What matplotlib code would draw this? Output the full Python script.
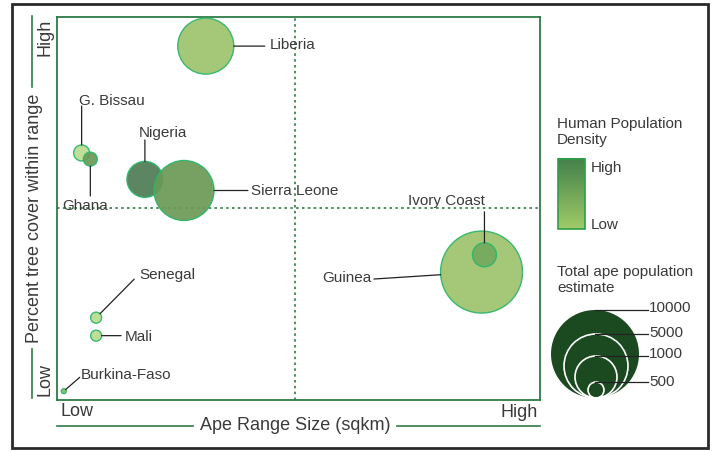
import numpy as np
import matplotlib
matplotlib.use("Agg")
import matplotlib.pyplot as plt
import matplotlib.patches as mpatches
from matplotlib.colors import LinearSegmentedColormap

# data (x = ape range size index, y = tree cover index, both 0-100)
countries = ["Liberia", "G. Bissau", "Ghana", "Nigeria", "Sierra Leone",
             "Guinea", "Ivory Coast", "Senegal", "Mali", "Burkina-Faso"]
range_size = [30.8, 5.1, 6.9, 18.2, 26.3, 87.9, 88.5, 8.1, 8.1, 1.4]
tree_cover = [92.4, 64.5, 62.9, 57.6, 54.7, 33.4, 37.9, 21.5, 16.8, 2.3]
ape_population = [4050, 330, 250, 1670, 4650, 8680, 740, 156, 156, 32]
human_density = [0.3, 0.0, 0.75, 1.0, 0.75, 0.3, 0.55, 0.0, 0.0, 0.4]
legend_values = ["10000", "5000", "1000", "500"]

W, H = 715, 452
plt.rcParams['font.family'] = ['Liberation Sans', 'DejaVu Sans']
TXT = '#3a3a3a'
DKGREEN = '#2F7A47'
EDGE = '#2DB56A'

density_cmap = LinearSegmentedColormap.from_list(
    "dens", [(0, '#BADD8F'), (0.3, '#9CC46D'), (0.55, '#74A95E'),
             (0.75, '#6B9955'), (1.0, '#4E7C55')])

fig = plt.figure(figsize=(W / 100, H / 100), dpi=100)

# overlay in pixel coordinates for frame, captions and legend
ov = fig.add_axes([0, 0, 1, 1])
ov.set_xlim(0, W)
ov.set_ylim(H, 0)
ov.axis('off')

# main axes
ax = fig.add_axes([57 / W, 1 - 401 / H, 483 / W, 383 / H])
ax.set_xlim(0, 100)
ax.set_ylim(0, 100)
ax.set_xticks([])
ax.set_yticks([])
ax.patch.set_alpha(0)
for sp in ax.spines.values():
    sp.set_color(DKGREEN)
    sp.set_linewidth(1.3)

ax.axvline(49.3, color=DKGREEN, lw=1.2, ls=(0, (1.5, 2)))
ax.axhline(50.1, color=DKGREEN, lw=1.2, ls=(0, (1.5, 2)))

def radius_px(pop):
    return 44 * np.sqrt(np.asarray(pop, dtype=float) / 10000)

r = radius_px(ape_population)
sizes = (2 * r * 0.72) ** 2
ax.scatter(range_size, tree_cover, s=sizes, c=density_cmap(human_density),
           edgecolors=EDGE, linewidths=1.0, alpha=0.92, zorder=3, clip_on=False)

# label layout in points from bubble centre:
# (connector end x, y, text x, y, ha, va)
label_layout = {
    "Liberia": (42.5, 0, 46, 1.4, 'left', 'center'),
    "G. Bissau": (0, 33.8, -1.8, 35.3, 'left', 'baseline'),
    "Nigeria": (0, 28.4, -4.3, 31.3, 'left', 'baseline'),
    "Ghana": (0, -26.6, -20.5, -36, 'left', 'baseline'),
    "Sierra Leone": (46, 0, 48.2, 0.3, 'left', 'center'),
    "Ivory Coast": (0, 31, -55, 36.8, 'left', 'baseline'),
    "Guinea": (-77.5, -5, -79, -3.5, 'right', 'center'),
    "Senegal": (27.4, 27.7, 31, 28.4, 'left', 'baseline'),
    "Mali": (18, 0, 20.9, 0, 'left', 'center'),
    "Burkina-Faso": (11.5, 10, 12.2, 9.4, 'left', 'baseline'),
}
for name, x, y, rr in zip(countries, range_size, tree_cover, r):
    ex, ey, tx, ty, ha, va = label_layout[name]
    ax.annotate('', xy=(x, y), xytext=(ex, ey), textcoords='offset points',
                zorder=5,
                arrowprops=dict(arrowstyle='-', color='#222222', lw=0.9,
                                shrinkA=0, shrinkB=rr * 0.72))
    ax.annotate(name, xy=(x, y), xytext=(tx, ty), textcoords='offset points',
                ha=ha, va=va, fontsize=11, color=TXT, zorder=5)

# outer frame
ov.add_patch(mpatches.Rectangle((12, 5), 696, 444, fill=False,
                                edgecolor='#2a2a2a', lw=2))

# axis captions
ov.text(45, 37, "High", rotation=90, ha='center', va='center', fontsize=13, color=TXT)
ov.text(45, 380, "Low", rotation=90, ha='center', va='center', fontsize=13, color=TXT)
ov.text(35, 218, "Percent tree cover within range", rotation=90,
        ha='center', va='center', fontsize=13, color=TXT)
ov.plot([32, 32], [17, 88], color=DKGREEN, lw=1.2)
ov.plot([32, 32], [350, 399], color=DKGREEN, lw=1.2)

ov.text(60, 412, "Low", ha='left', va='center', fontsize=13, color=TXT)
ov.text(538, 413, "High", ha='right', va='center', fontsize=13, color=TXT)
ov.text(295, 426, "Ape Range Size (sqkm)", ha='center', va='center',
        fontsize=13, color=TXT)
ov.plot([57, 193], [427, 427], color=DKGREEN, lw=1.2)
ov.plot([397, 540], [427, 427], color=DKGREEN, lw=1.2)

# legend: human population density
ov.text(557, 117, "Human Population\nDensity", ha='left', va='top',
        fontsize=11, color=TXT, linespacing=1.15)
grad = np.linspace(1, 0, 100).reshape(-1, 1)
cbar_cmap = LinearSegmentedColormap.from_list("cb", ['#9FCC68', '#43804B'])
ov.imshow(grad, cmap=cbar_cmap, extent=(558, 585, 230, 160), aspect='auto',
          vmin=0, vmax=1, zorder=2)
ov.add_patch(mpatches.Rectangle((558, 160), 27, 70, fill=False,
                                edgecolor='#2E9E4A', lw=1.2, zorder=3))
ov.text(591, 168, "High", ha='left', va='center', fontsize=11, color=TXT)
ov.text(591, 225, "Low", ha='left', va='center', fontsize=11, color=TXT)

# legend: ape population
ov.text(557, 265, "Total ape population\nestimate", ha='left', va='top',
        fontsize=11, color=TXT, linespacing=1.15)
legend_radius_px = [44, 32, 21, 8]
label_y = [308, 333, 354, 382]
base_y = 399
for i, (val, rad, ty) in enumerate(zip(legend_values, legend_radius_px, label_y)):
    cy = base_y - rad
    if i == 0:
        ov.add_patch(mpatches.Circle((595, cy), rad, facecolor='#1B4A21',
                                     edgecolor='#1B4A21', lw=0, zorder=2))
    else:
        ov.add_patch(mpatches.Circle((596, cy), rad, facecolor='none',
                                     edgecolor='white', lw=1.2, zorder=3))
    top = cy - rad
    ov.plot([595, 648], [top, top], color='#222222', lw=0.9, zorder=4)
    ov.text(649, ty, val, ha='left', va='center', fontsize=11, color=TXT)

ov.set_xlim(0, W)
ov.set_ylim(H, 0)

fig.savefig("out.png", dpi=100)
